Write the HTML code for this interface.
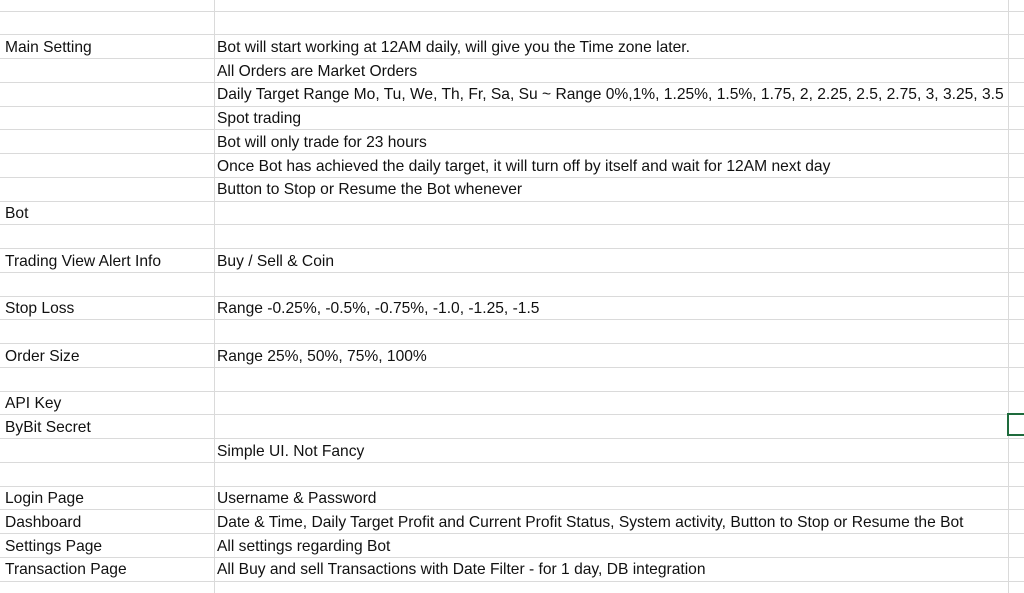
<!DOCTYPE html>
<html><head><meta charset="utf-8"><style>
body{margin:0;width:1024px;height:593px;background:#fff;overflow:hidden;position:relative;font-family:"Liberation Sans",sans-serif;}
.h{position:absolute;left:0;width:1024px;height:1px;background:#dadada;}
.v{position:absolute;top:0;height:593px;width:1px;background:#dadada;}
.t{position:absolute;font-size:15.6px;color:#111;white-space:nowrap;line-height:23px;}
</style></head><body>
<div class="v" style="left:214px"></div>
<div class="v" style="left:1008px"></div>
<div id="grid"></div>
<div style="position:absolute;left:1007px;top:413px;width:20px;height:23px;border:2px solid #1e6b3c;box-sizing:border-box"></div>
<script>
const rowsA={1:"Main Setting",8:"Bot",10:"Trading View Alert Info",12:"Stop Loss",14:"Order Size",16:"API Key",17:"ByBit Secret",20:"Login Page",21:"Dashboard",22:"Settings Page",23:"Transaction Page"};
const rowsB={1:"Bot will start working at 12AM daily, will give you the Time zone later.",2:"All Orders are Market Orders",3:"Daily Target Range Mo, Tu, We, Th, Fr, Sa, Su ~ Range 0%,1%, 1.25%, 1.5%, 1.75, 2, 2.25, 2.5, 2.75, 3, 3.25, 3.5",4:"Spot trading",5:"Bot will only trade for 23 hours",6:"Once Bot has achieved the daily target, it will turn off by itself and wait for 12AM next day",7:"Button to Stop or Resume the Bot whenever",10:"Buy / Sell & Coin",12:"Range -0.25%, -0.5%, -0.75%, -1.0, -1.25, -1.5",14:"Range 25%, 50%, 75%, 100%",18:"Simple UI. Not Fancy",20:"Username & Password",21:"Date & Time, Daily Target Profit and Current Profit Status, System activity, Button to Stop or Resume the Bot",22:"All settings regarding Bot",23:"All Buy and sell Transactions with Date Filter - for 1 day, DB integration"};
const g=document.getElementById('grid');
const y=k=>10.5+23.75*k;
for(let k=0;k<=24;k++){const d=document.createElement('div');d.className='h';d.style.top=Math.round(y(k))+'px';


g.appendChild(d);}
function cell(x,k,txt,name){const d=document.createElement('div');d.className='t';d.style.left=x+'px';d.style.top=(y(k)+1.5)+'px';d.textContent=txt;


g.appendChild(d);}
for(const k in rowsA)cell(5,+k,rowsA[k],'label-cell');
for(const k in rowsB)cell(217,+k,rowsB[k],'description-cell');
</script>
</body></html>
